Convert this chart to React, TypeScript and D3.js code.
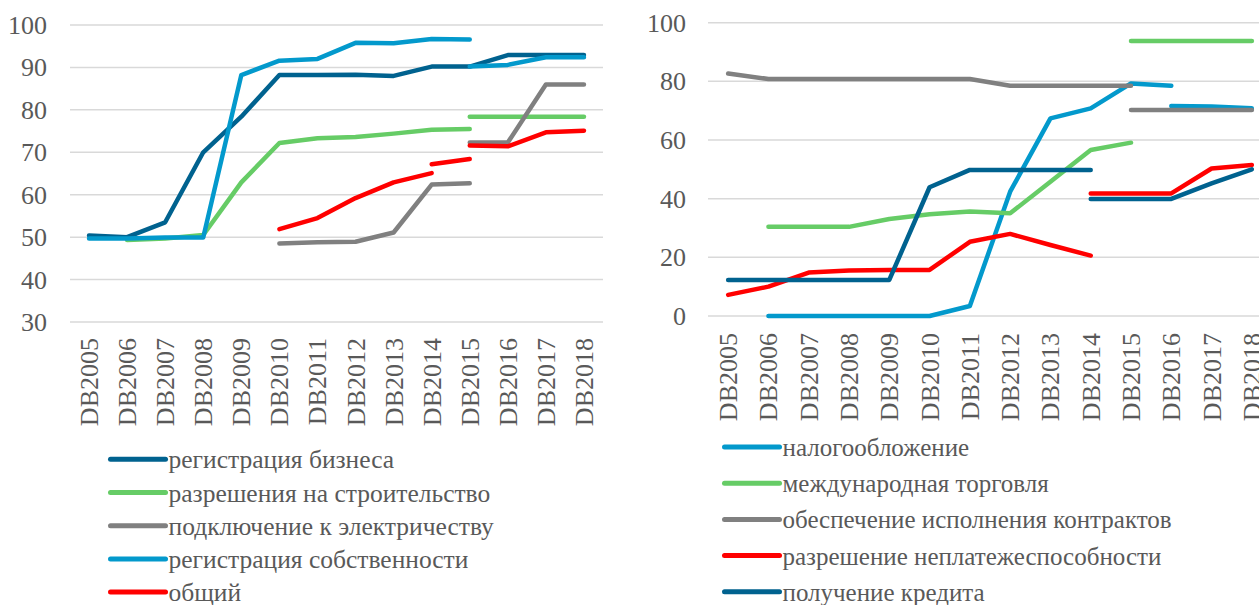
import React from "react";
import * as d3 from "d3";

const years = [
  "DB2005", "DB2006", "DB2007", "DB2008", "DB2009", "DB2010", "DB2011",
  "DB2012", "DB2013", "DB2014", "DB2015", "DB2016", "DB2017", "DB2018",
];

const N = null;

// left panel
const leftTicks = [30, 40, 50, 60, 70, 80, 90, 100];
const bizReg = [50.4, 50.0, 53.5, 70.0, 78.4, 88.2, 88.2, 88.3, 88.0, 90.2, 90.2, 92.9, 92.9, 92.9];
const constructionOld = [N, 49.3, 49.7, 50.5, 62.9, 72.2, 73.3, 73.6, 74.4, 75.3, 75.5, N, N, N];
const constructionNew = [N, N, N, N, N, N, N, N, N, N, 78.4, 78.4, 78.4, 78.4];
const electricityOld = [N, N, N, N, N, 48.5, 48.8, 48.9, 51.1, 62.4, 62.7, N, N, N];
const electricityNew = [N, N, N, N, N, N, N, N, N, N, 72.3, 72.3, 86.0, 86.0];
const propertyOld = [49.7, 49.7, 49.9, 49.9, 88.2, 91.6, 92.0, 95.8, 95.7, 96.7, 96.6, N, N, N];
const propertyNew = [N, N, N, N, N, N, N, N, N, N, 90.2, 90.6, 92.4, 92.4];
const overallA = [N, N, N, N, N, 51.9, 54.5, 59.2, 62.9, 65.1, N, N, N, N];
const overallB = [N, N, N, N, N, N, N, N, N, 67.2, 68.4, N, N, N];
const overallC = [N, N, N, N, N, N, N, N, N, N, 71.6, 71.4, 74.7, 75.1];

// right panel
const rightTicks = [0, 20, 40, 60, 80, 100];
const taxOld = [N, 0, 0, 0, 0, 0, 3.4, 42.4, 67.4, 70.8, 79.3, 78.5, N, N];
const taxNew = [N, N, N, N, N, N, N, N, N, N, N, 71.6, 71.4, 70.8];
const tradeOld = [N, 30.4, 30.4, 30.4, 33.1, 34.7, 35.6, 35.0, 45.8, 56.6, 59.1, N, N, N];
const tradeNew = [N, N, N, N, N, N, N, N, N, N, 93.8, 93.8, 93.8, 93.8];
const contractsOld = [82.7, 80.8, 80.8, 80.8, 80.8, 80.8, 80.8, 78.5, 78.5, 78.5, 78.5, N, N, N];
const contractsNew = [N, N, N, N, N, N, N, N, N, N, 70.2, 70.2, 70.2, 70.2];
const insolvencyOld = [7.2, 10.0, 14.8, 15.5, 15.7, 15.7, 25.3, 28.0, 24.2, 20.6, N, N, N, N];
const insolvencyNew = [N, N, N, N, N, N, N, N, N, 41.8, 41.8, 41.8, 50.3, 51.5];
const creditOld = [12.3, 12.3, 12.3, 12.3, 12.3, 43.9, 49.8, 49.8, 49.8, 49.8, N, N, N, N];
const creditNew = [N, N, N, N, N, N, N, N, N, 39.9, 39.9, 39.9, 45.2, 50.0];

const DARK = "#00628f";
const LIGHT = "#0399cc";
const GREEN = "#66cc66";
const GRAY = "#808080";
const RED = "#ff0000";

const leftSeries = [
  { name: "регистрация бизнеса", color: DARK, parts: [bizReg] },
  { name: "разрешения на строительство", color: GREEN, parts: [constructionOld, constructionNew] },
  { name: "подключение к электричеству", color: GRAY, parts: [electricityOld, electricityNew] },
  { name: "регистрация собственности", color: LIGHT, parts: [propertyOld, propertyNew] },
  { name: "общий", color: RED, parts: [overallA, overallB, overallC] },
];

const rightSeries = [
  { name: "налогообложение", color: LIGHT, parts: [taxOld, taxNew] },
  { name: "международная торговля", color: GREEN, parts: [tradeOld, tradeNew] },
  { name: "обеспечение исполнения контрактов", color: GRAY, parts: [contractsOld, contractsNew] },
  { name: "разрешение неплатежеспособности", color: RED, parts: [insolvencyOld, insolvencyNew] },
  { name: "получение кредита", color: DARK, parts: [creditOld, creditNew] },
];

const TEXT = "#595959";
const font = (size) => ({ fontFamily: "'Liberation Serif', 'Times New Roman', serif", fontSize: `${size}px` });

const Panel = ({ series, ticks, domain, xRange, yRange, tickX, labelTop, legend }) => {
  const x = d3.scaleBand().domain(years).range(xRange);
  const y = d3.scaleLinear().domain(domain).range(yRange);
  const cx = (i) => x(years[i]) + x.bandwidth() / 2;

  const line = d3.line()
    .defined((d) => d != null)
    .x((d, i) => cx(i))
    .y((d) => y(d));

  return (
    <>
      {ticks.map((t) => (
        <line key={`g${t}`} x1={xRange[0]} x2={xRange[1]} y1={y(t)} y2={y(t)} stroke="#d9d9d9" strokeWidth={1.5} />
      ))}
      {ticks.map((t) => (
        <text key={`y${t}`} x={tickX} y={y(t) + 9} textAnchor="end" fill={TEXT} style={font(26)}>
          {t}
        </text>
      ))}
      {years.map((yr, i) => (
        <text
          key={yr}
          x={-labelTop}
          y={cx(i) + 9}
          transform="rotate(-90)"
          textAnchor="end"
          fill={TEXT}
          style={font(26)}
        >
          {yr}
        </text>
      ))}
      {series.map((s) =>
        s.parts.map((p, j) => (
          <path
            key={`${s.name}${j}`}
            d={line(p)}
            fill="none"
            stroke={s.color}
            strokeWidth={4.5}
            strokeLinecap="round"
            strokeLinejoin="round"
          />
        ))
      )}
      {series.map((s, i) => (
        <line
          key={`ll${s.name}`}
          x1={legend.x}
          x2={legend.x + 55}
          y1={legend.y + i * legend.step}
          y2={legend.y + i * legend.step}
          stroke={s.color}
          strokeWidth={5}
          strokeLinecap="round"
        />
      ))}
      {series.map((s, i) => (
        <text
          key={`lt${s.name}`}
          x={legend.x + 58}
          y={legend.y + i * legend.step + 9}
          fill={TEXT}
          style={font(legend.size)}
        >
          {s.name}
        </text>
      ))}
    </>
  );
};

export default function App() {
  return (
    <svg width={1259} height={605} style={{ position: "absolute", left: 0, top: 0 }}>
      <Panel
        series={leftSeries}
        ticks={leftTicks}
        domain={[30, 100]}
        xRange={[70, 603]}
        yRange={[322, 25]}
        tickX={47}
        labelTop={338}
        legend={{ x: 110.5, y: 459.3, step: 33.2, size: 25.5 }}
      />
      <Panel
        series={rightSeries}
        ticks={rightTicks}
        domain={[0, 100]}
        xRange={[708, 1272]}
        yRange={[316, 22.7]}
        tickX={686}
        labelTop={333}
        legend={{ x: 724.5, y: 447, step: 36.2, size: 25 }}
      />
    </svg>
  );
}
